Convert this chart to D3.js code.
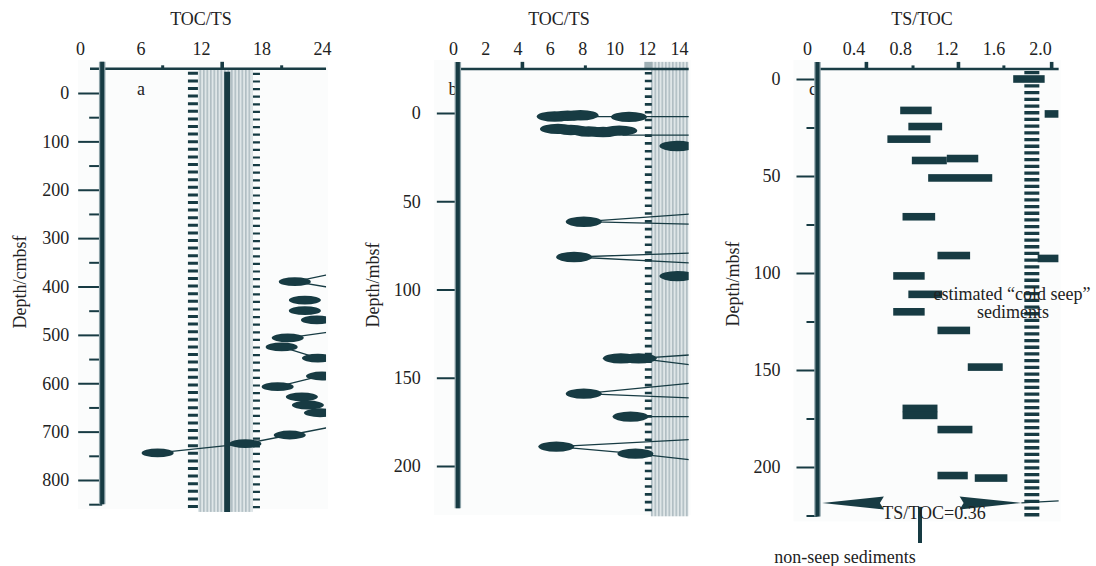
<!DOCTYPE html>
<html><head><meta charset="utf-8">
<script src="https://cdn.jsdelivr.net/npm/d3@7"></script>
<style>
body{margin:0;background:#fff}
svg{display:block}
svg text{font-family:'Liberation Serif','Tinos','Times New Roman','Noto Serif','DejaVu Serif',serif !important;fill:#222}
</style>
</head><body>
<svg id="chart" width="1096" height="566"></svg>
<script>
// ---------------- DATA ----------------
// Panel a: TOC/TS vs Depth (cmbsf)
const aTopLabels = [0, 6, 12, 18, 24];
const aDepthMajor = [0, 100, 200, 300, 400, 500, 600, 700, 800];
const aDepthMinor = [50, 150, 250, 350, 450, 550, 650, 750, 850];
const aPoints = [
  {depth: 390, value: 21.3}, {depth: 428, value: 22.3}, {depth: 450, value: 22.3},
  {depth: 469, value: 23.5}, {depth: 506, value: 20.6}, {depth: 525, value: 20.0},
  {depth: 548, value: 23.6}, {depth: 585, value: 24.0}, {depth: 607, value: 19.6},
  {depth: 628, value: 22.0}, {depth: 645, value: 22.6}, {depth: 661, value: 23.8},
  {depth: 707, value: 20.8}, {depth: 725, value: 16.4}, {depth: 744, value: 7.7}
];
const aLinks = [
  [744, 7.7, 725, 16.4], [725, 16.4, 692, 24.5], [390, 21.3, 376, 24.5],
  [390, 21.3, 401, 24.5], [506, 20.6, 495, 24.5], [525, 20.0, 548, 23.6],
  [607, 19.6, 583, 24.2]
];
const aBandRange = [11.7, 17.1];
const aBandEdges = [11.2, 17.5];
const aMeanLine = 14.6;
const aAxisValue = 2.2;
const aTopMarksMajor = [14.1];
const aTopMarksMinor = [8.2, 20.0];

// Panel b: TOC/TS vs Depth (mbsf)
const bTopLabels = [0, 2, 4, 6, 8, 10, 12, 14];
const bDepthMajor = [0, 50, 100, 150, 200];
const bPoints = [
  {depth: 2.0, value: 6.3}, {depth: 1.6, value: 7.1}, {depth: 1.3, value: 7.9},
  {depth: 2.2, value: 10.9},
  {depth: 9.0, value: 6.5}, {depth: 9.6, value: 7.3}, {depth: 10.5, value: 8.4},
  {depth: 10.8, value: 9.3}, {depth: 10.0, value: 10.3},
  {depth: 18.7, value: 13.9}, {depth: 61.6, value: 8.1}, {depth: 81.6, value: 7.5},
  {depth: 92.4, value: 13.9}, {depth: 139, value: 10.4}, {depth: 139, value: 11.5},
  {depth: 159, value: 8.1}, {depth: 172, value: 11.0}, {depth: 189, value: 6.4},
  {depth: 193, value: 11.3}
];
const bLinks = [
  [2.0, 6.3, 2.0, 14.8], [12.5, 10.5, 12.5, 14.8], [10.0, 6.5, 10.5, 10.3],
  [61.6, 8.1, 57.2, 14.8],
  [61.6, 8.1, 63.0, 14.8], [81.6, 7.5, 79.3, 14.8], [81.6, 7.5, 85.0, 14.8],
  [139, 11.5, 137, 14.8], [139, 11.5, 142.8, 14.8], [159, 8.1, 153, 14.8],
  [159, 8.1, 161.5, 14.8], [172, 11.0, 172, 14.8], [189, 6.4, 185, 14.8],
  [189, 6.4, 193, 11.3], [193, 11.3, 196.6, 14.8]
];
const bBandStart = 12.25;
const bBandEdge = 12.1;
const bAxisValue = 0.3;
const bTopMarksMajor = [4.3];
const bTopMarksMinor = [8.2];

// Panel c: TS/TOC vs Depth (mbsf)
const cTopLabels = [0, 0.4, 0.8, 1.2, 1.6, 2.0];
const cDepthMajor = [0, 50, 100, 150, 200];
const cDepthMinor = [25, 75, 125, 175, 225];
const cBars = [
  {depth: 0, from: 1.77, to: 2.04}, {depth: 18, from: 2.04, to: 2.16},
  {depth: 16.2, from: 0.80, to: 1.07}, {depth: 24.5, from: 0.87, to: 1.16},
  {depth: 31, from: 0.69, to: 1.06}, {depth: 42, from: 0.90, to: 1.20},
  {depth: 41, from: 1.20, to: 1.47}, {depth: 51, from: 1.04, to: 1.59},
  {depth: 71, from: 0.82, to: 1.10}, {depth: 91, from: 1.12, to: 1.40},
  {depth: 92.5, from: 1.98, to: 2.16}, {depth: 101.5, from: 0.74, to: 1.01},
  {depth: 111, from: 0.87, to: 1.16}, {depth: 120, from: 0.74, to: 1.01},
  {depth: 129.6, from: 1.12, to: 1.40}, {depth: 148.5, from: 1.38, to: 1.68},
  {depth: 169.8, from: 0.82, to: 1.12}, {depth: 173.4, from: 0.82, to: 1.12},
  {depth: 180.7, from: 1.12, to: 1.42}, {depth: 204.4, from: 1.12, to: 1.38},
  {depth: 205.7, from: 1.44, to: 1.72}
];
const cDashLine = 1.93;
const cAxisValue = 0.09;
const cTopMarksMajor = [0.51, 1.30, 2.10];
const cTopMarksMinor = [0.91, 1.69];
const cArrowDepth = 218.5;
const cArrowLeft = [0.66, 0.13];   // from -> tip
const cArrowRight = [1.31, 1.84];  // from -> tip
const cThreshold = 0.97;           // position of TS/TOC=0.36 marker line

// ---------------- DRAW ----------------
const DARK = "#173b43";
const FONT = "'Liberation Serif','Tinos','Times New Roman','Noto Serif','DejaVu Serif',serif";
const svg = d3.select("#chart");
const defs = svg.append("defs");
const pat = defs.append("pattern").attr("id", "stripes")
  .attr("patternUnits", "userSpaceOnUse").attr("width", 3.5).attr("height", 10);
pat.append("rect").attr("width", 3.5).attr("height", 10).attr("fill", "#dfe6e8");
pat.append("rect").attr("width", 1.6).attr("height", 10).attr("fill", "#b0bec3");

function setupPanel(o) {
  const g = svg.append("g");
  const x = o.x, y = o.y;
  const left = x(o.axisValue), right = x(o.xMax);
  const top = y(o.yTop), bottom = y(o.yBottom);
  g.append("rect").attr("x", left - 24).attr("y", top - 9)
    .attr("width", right - left + 26).attr("height", bottom - top + 14)
    .attr("fill", "#fbfcfc");
  defs.append("clipPath").attr("id", o.id + "clip").append("rect")
    .attr("x", left).attr("y", top - 10).attr("width", right - left).attr("height", bottom - top + 20);
  const plot = g.append("g").attr("clip-path", `url(#${o.id}clip)`);
  return {g, plot, left, right, top, bottom};
}

function txt(sel) {
  return sel.attr("font-family", FONT).style("font-size", "18px").attr("fill", "#222");
}

function styleAxis(ax) {
  ax.attr("font-family", FONT).attr("font-size", 18);
  ax.select(".domain").remove();
  ax.selectAll("line").attr("stroke", DARK).attr("stroke-width", 2);
  txt(ax.selectAll("text"));
}

function topAxis(P, o, labels, fmt) {
  const ax = P.g.append("g").attr("transform", "translate(0,55)")
    .call(d3.axisTop(o.x).tickValues(labels).tickSize(0).tickPadding(0).tickFormat(fmt));
  styleAxis(ax);
  P.g.append("line").attr("x1", o.topLineStart).attr("x2", P.right)
    .attr("y1", P.top).attr("y2", P.top).attr("stroke", DARK).attr("stroke-width", 2.5);
  P.g.selectAll(null).data(o.marksMajor).join("rect")
    .attr("x", d => o.x(d) - 1.8).attr("y", P.top - 7).attr("width", 3.6).attr("height", 7).attr("fill", DARK);
  P.g.selectAll(null).data(o.marksMinor).join("rect")
    .attr("x", d => o.x(d) - 1.5).attr("y", P.top - 3.5).attr("width", 3).attr("height", 3.5).attr("fill", DARK);
  txt(P.g.append("text").attr("x", o.titleX).attr("y", 25).attr("text-anchor", "middle")).text(o.title);
}

function leftAxis(P, o, major, minor, majorLen, minorLen, pad) {
  const ax = P.g.append("g").attr("transform", `translate(${P.left},0)`)
    .call(d3.axisLeft(o.y).tickValues(major).tickSize(majorLen).tickPadding(pad));
  styleAxis(ax);
  if (minor) {
    const ax2 = P.g.append("g").attr("transform", `translate(${P.left},0)`)
      .call(d3.axisLeft(o.y).tickValues(minor).tickSize(minorLen).tickFormat(""));
    styleAxis(ax2);
  }
  txt(P.g.append("text")
    .attr("transform", `translate(${o.ylabelX},${o.ylabelY}) rotate(-90)`)
    .attr("text-anchor", "middle").attr("dominant-baseline", "central")).text(o.ylabel);
}

function yAxisLine(P, yEnd) {
  P.g.append("line").attr("x1", P.left).attr("x2", P.left).attr("y1", P.top - 7).attr("y2", yEnd)
    .attr("stroke", "#8ea3a9").attr("stroke-width", 6.5);
  P.g.append("line").attr("x1", P.left).attr("x2", P.left).attr("y1", P.top - 7).attr("y2", yEnd)
    .attr("stroke", DARK).attr("stroke-width", 4);
}

function panelLetter(P, xPos, letter) {
  txt(P.g.append("text").attr("x", xPos).attr("y", 95).attr("text-anchor", "middle")).text(letter);
}

// ===== Panel a =====
{
  const o = {
    id: "a",
    x: d3.scaleLinear().domain([0, 24]).range([80, 322]),
    y: d3.scaleLinear().domain([0, 800]).range([93, 480]),
    axisValue: aAxisValue, xMax: 24.4, yTop: -50, yBottom: 850,
    topLineStart: 90, marksMajor: aTopMarksMajor, marksMinor: aTopMarksMinor,
    title: "TOC/TS", titleX: 201, ylabel: "Depth/cmbsf", ylabelX: 20, ylabelY: 282
  };
  const P = setupPanel(o);
  const {x, y} = o;
  const bandBottom = y(866);
  P.plot.append("rect").attr("x", x(aBandRange[0])).attr("y", P.top)
    .attr("width", x(aBandRange[1]) - x(aBandRange[0])).attr("height", bandBottom - P.top)
    .attr("fill", "url(#stripes)");
  P.plot.append("line").attr("x1", x(aBandEdges[0])).attr("x2", x(aBandEdges[0]))
    .attr("y1", P.top + 3).attr("y2", bandBottom).attr("stroke", DARK)
    .attr("stroke-width", 10).attr("stroke-dasharray", "3 4.6");
  P.plot.append("line").attr("x1", x(aBandEdges[1])).attr("x2", x(aBandEdges[1]))
    .attr("y1", P.top + 4).attr("y2", bandBottom).attr("stroke", DARK)
    .attr("stroke-width", 7).attr("stroke-dasharray", "2.2 5.4");
  P.plot.append("line").attr("x1", x(aMeanLine)).attr("x2", x(aMeanLine))
    .attr("y1", P.top + 3).attr("y2", bandBottom).attr("stroke", DARK).attr("stroke-width", 6);
  P.plot.selectAll(null).data(aLinks).join("line")
    .attr("x1", d => x(d[1])).attr("y1", d => y(d[0]))
    .attr("x2", d => x(d[3])).attr("y2", d => y(d[2]))
    .attr("stroke", DARK).attr("stroke-width", 1.3);
  P.plot.selectAll(null).data(aPoints).join("ellipse")
    .attr("cx", d => x(d.value)).attr("cy", d => y(d.depth))
    .attr("rx", 16).attr("ry", 4.4).attr("fill", DARK);
  topAxis(P, o, aTopLabels, d3.format("d"));
  leftAxis(P, o, aDepthMajor, aDepthMinor, 24, 13, 9);
  yAxisLine(P, P.bottom);
  panelLetter(P, 141, "a");
}

// ===== Panel b =====
{
  const o = {
    id: "b",
    x: d3.scaleLinear().domain([0, 14]).range([453, 679]),
    y: d3.scaleLinear().domain([0, 200]).range([113, 466]),
    axisValue: bAxisValue, xMax: 14.6, yTop: -25, yBottom: 225,
    topLineStart: 458, marksMajor: bTopMarksMajor, marksMinor: bTopMarksMinor,
    title: "TOC/TS", titleX: 559, ylabel: "Depth/mbsf", ylabelX: 373, ylabelY: 285
  };
  const P = setupPanel(o);
  const {x, y} = o;
  const bandBottom = y(228.5);
  P.plot.append("rect").attr("x", x(bBandStart)).attr("y", P.top - 7)
    .attr("width", P.right - x(bBandStart)).attr("height", bandBottom - P.top + 7)
    .attr("fill", "url(#stripes)");
  P.g.append("rect").attr("x", x(bBandEdge) - 4).attr("y", P.top - 7)
    .attr("width", 8).attr("height", 7).attr("fill", "#9fb0b5");
  P.plot.append("line").attr("x1", x(bBandEdge)).attr("x2", x(bBandEdge))
    .attr("y1", P.top + 3).attr("y2", bandBottom).attr("stroke", DARK)
    .attr("stroke-width", 7).attr("stroke-dasharray", "2.6 5.2");
  P.plot.selectAll(null).data(bLinks).join("line")
    .attr("x1", d => x(d[1])).attr("y1", d => y(d[0]))
    .attr("x2", d => x(d[3])).attr("y2", d => y(d[2]))
    .attr("stroke", DARK).attr("stroke-width", 1.3);
  P.plot.selectAll(null).data(bPoints).join("ellipse")
    .attr("cx", d => x(d.value)).attr("cy", d => y(d.depth))
    .attr("rx", 18).attr("ry", 5.2).attr("fill", DARK);
  topAxis(P, o, bTopLabels, d3.format("d"));
  leftAxis(P, o, bDepthMajor, null, 21, 0, 16);
  panelLetter(P, 453, "b");
  yAxisLine(P, y(224));
}

// ===== Panel c =====
{
  const o = {
    id: "c",
    x: d3.scaleLinear().domain([0, 2]).range([807, 1040]),
    y: d3.scaleLinear().domain([0, 200]).range([79, 467]),
    axisValue: cAxisValue, xMax: 2.16, yTop: -5.2, yBottom: 225.5,
    topLineStart: 818, marksMajor: cTopMarksMajor, marksMinor: cTopMarksMinor,
    title: "TS/TOC", titleX: 922, ylabel: "Depth/mbsf", ylabelX: 733, ylabelY: 284
  };
  const P = setupPanel(o);
  const {x, y} = o;
  panelLetter(P, 813, "c");
  P.plot.append("line").attr("x1", x(cDashLine)).attr("x2", x(cDashLine))
    .attr("y1", P.top + 2).attr("y2", P.bottom).attr("stroke", DARK)
    .attr("stroke-width", 15).attr("stroke-dasharray", "3.3 3.4");
  P.plot.selectAll(null).data(cBars).join("rect")
    .attr("x", d => x(d.from)).attr("y", d => y(d.depth) - 3.8)
    .attr("width", d => x(d.to) - x(d.from)).attr("height", 7.6).attr("fill", DARK);
  const yA = y(cArrowDepth);
  const arrow = (from, tip) => `M${x(tip)},${yA} L${x(from)},${yA - 6.5} L${x(from) + (tip < from ? -4 : 4)},${yA} L${x(from)},${yA + 6.5} Z`;
  P.g.append("path").attr("d", arrow(cArrowLeft[0], cArrowLeft[1])).attr("fill", DARK);
  P.g.append("path").attr("d", arrow(cArrowRight[0], cArrowRight[1])).attr("fill", DARK);
  P.g.append("line").attr("x1", x(cArrowRight[1])).attr("y1", yA)
    .attr("x2", P.right).attr("y2", yA - 2).attr("stroke", DARK).attr("stroke-width", 1.3);
  P.g.append("line").attr("x1", x(cThreshold)).attr("x2", x(cThreshold))
    .attr("y1", yA + 4).attr("y2", 543).attr("stroke", DARK).attr("stroke-width", 4);
  topAxis(P, o, cTopLabels, d => d === 0 ? "0" : d3.format(".1f")(d));
  leftAxis(P, o, cDepthMajor, cDepthMinor, 21, 11, 16);
  yAxisLine(P, P.bottom);
  txt(P.g.append("text").attr("x", 934).attr("y", 519).attr("text-anchor", "middle")).text("TS/TOC=0.36");
  txt(P.g.append("text").attr("x", 845).attr("y", 563).attr("text-anchor", "middle")).text("non-seep sediments");
  txt(P.g.append("text").attr("x", 1012).attr("y", 300).attr("text-anchor", "middle")).text("estimated \u201ccold seep\u201d");
  txt(P.g.append("text").attr("x", 1013).attr("y", 318).attr("text-anchor", "middle")).text("sediments");
}
</script>
</body></html>
